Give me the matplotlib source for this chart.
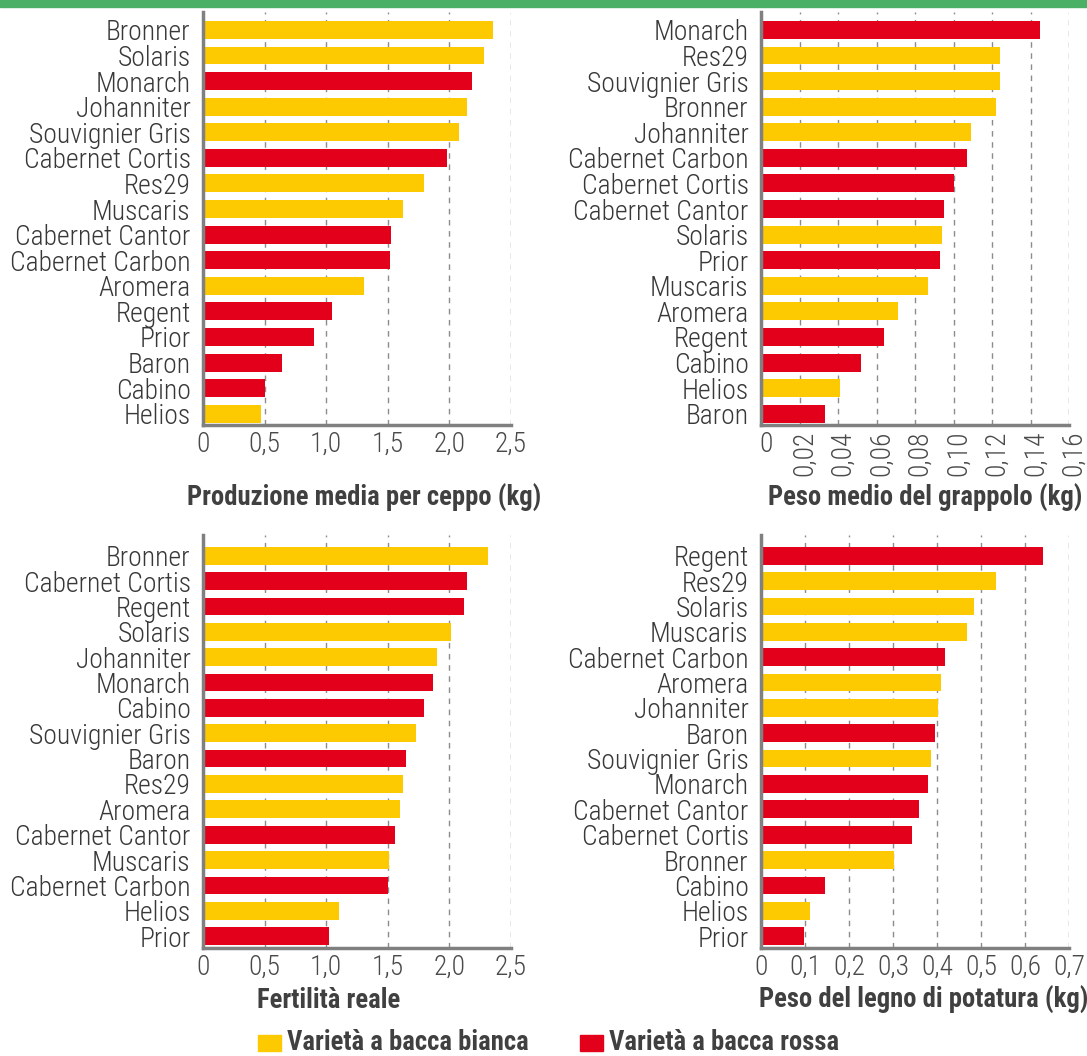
import matplotlib
matplotlib.use("Agg")
import matplotlib.pyplot as plt
import matplotlib.transforms as mtransforms
from matplotlib import font_manager as fm
from matplotlib.patches import Rectangle

# Dati
cat_prod = ["Bronner", "Solaris", "Monarch", "Johanniter", "Souvignier Gris", "Cabernet Cortis",
            "Res29", "Muscaris", "Cabernet Cantor", "Cabernet Carbon", "Aromera", "Regent",
            "Prior", "Baron", "Cabino", "Helios"]
val_prod = [2.35, 2.28, 2.18, 2.14, 2.08, 1.98, 1.79, 1.62, 1.53, 1.52, 1.31, 1.05, 0.90, 0.64, 0.50, 0.47]

cat_grap = ["Monarch", "Res29", "Souvignier Gris", "Bronner", "Johanniter", "Cabernet Carbon",
            "Cabernet Cortis", "Cabernet Cantor", "Solaris", "Prior", "Muscaris", "Aromera",
            "Regent", "Cabino", "Helios", "Baron"]
val_grap = [0.145, 0.124, 0.124, 0.122, 0.109, 0.107, 0.100, 0.095, 0.094, 0.093, 0.087, 0.071,
            0.064, 0.052, 0.041, 0.033]

cat_fert = ["Bronner", "Cabernet Cortis", "Regent", "Solaris", "Johanniter", "Monarch", "Cabino",
            "Souvignier Gris", "Baron", "Res29", "Aromera", "Cabernet Cantor", "Muscaris",
            "Cabernet Carbon", "Helios", "Prior"]
val_fert = [2.31, 2.14, 2.12, 2.01, 1.90, 1.87, 1.79, 1.73, 1.65, 1.62, 1.60, 1.56, 1.51, 1.50, 1.10, 1.02]

cat_legno = ["Regent", "Res29", "Solaris", "Muscaris", "Cabernet Carbon", "Aromera", "Johanniter",
             "Baron", "Souvignier Gris", "Monarch", "Cabernet Cantor", "Cabernet Cortis", "Bronner",
             "Cabino", "Helios", "Prior"]
val_legno = [0.64, 0.533, 0.484, 0.468, 0.418, 0.409, 0.402, 0.395, 0.386, 0.379, 0.359, 0.343,
             0.302, 0.146, 0.112, 0.098]

varieta_rosse = ["Monarch", "Cabernet Cortis", "Cabernet Cantor", "Cabernet Carbon", "Regent",
                 "Prior", "Baron", "Cabino"]

tick_prod = [0, 0.5, 1.0, 1.5, 2.0, 2.5]
lab_prod = ["0", "0,5", "1,0", "1,5", "2,0", "2,5"]
tick_grap = [0, 0.02, 0.04, 0.06, 0.08, 0.10, 0.12, 0.14, 0.16]
lab_grap = ["0", "0,02", "0,04", "0,06", "0,08", "0,10", "0,12", "0,14", "0,16"]
tick_legno = [0, 0.1, 0.2, 0.3, 0.4, 0.5, 0.6, 0.7]
lab_legno = ["0", "0,1", "0,2", "0,3", "0,4", "0,5", "0,6", "0,7"]

GIALLO = "#FDC900"
ROSSO = "#E3001B"
GRIGIO = "#808080"
TESTO = "#404040"

# carattere stretto, se ce n'è uno installato
font_list = fm.fontManager.ttflist
nomi = {f.name for f in font_list}
famiglia, stretch = "Roboto", "normal"
for nome in ["Roboto Condensed", "Liberation Sans Narrow", "Open Sans Condensed"]:
    if nome in nomi:
        famiglia = nome
        break
else:
    for nome in ["DejaVu Sans", "Noto Sans", "Open Sans"]:
        if any(f.name == nome and "condensed" in str(f.stretch) for f in font_list):
            famiglia, stretch = nome, "condensed"
            break
plt.rcParams['font.family'] = [famiglia, 'DejaVu Sans']
plt.rcParams['font.stretch'] = stretch
# peso leggero per le etichette, se esiste
leggero = "light" if any(f.name == famiglia and f.weight in (300, "light") for f in font_list) else "normal"

W, H = 1087, 1056
fig = plt.figure(figsize=(W / 100, H / 100), dpi=100)
renderer = fig.canvas.get_renderer()


def misura(testo, larghezza, peso="normal"):
    # dimensione del carattere che dà al testo la larghezza voluta in pixel
    t = fig.text(0, 0, testo, fontsize=20, fontweight=peso)
    w = t.get_window_extent(renderer).width
    t.remove()
    return 20 * larghezza / w


fs_cat = min(misura("Cabernet Carbon", 180, leggero), 21)
fs_tick = min(misura("2,5", 32, leggero), 21)
fs_tit = min(misura("Produzione media per ceppo (kg)", 352, "bold"), 21)

# striscia verde in alto
fig.patches.append(Rectangle((0, 1 - 7 / H), 1, 7 / H, transform=fig.transFigure,
                             color="#49B065", zorder=0))


def pannello(x0, x1, ytop, ybot, cats, vals, ticks, labs, ylim):
    ax = fig.add_axes([x0 / W, 1 - ybot / H, (x1 - x0) / W, (ybot - ytop) / H])
    colori = [ROSSO if c in varieta_rosse else GIALLO for c in cats]
    ax.barh(range(len(cats)), vals, height=0.7, color=colori, zorder=2)
    ax.set_ylim(*ylim)
    ax.set_xlim(ticks[0], ticks[-1])
    ax.set_yticks(range(len(cats)))
    ax.set_yticklabels(cats, fontsize=fs_cat, color="#383838", fontweight=leggero)
    ax.set_xticks(ticks)
    ax.set_xticklabels(labs, fontsize=fs_tick, color="#4a4a4a", fontweight=leggero)
    ax.tick_params(length=0, axis="y", pad=9)
    ax.tick_params(length=0, axis="x", pad=4)
    for s in ["top", "right"]:
        ax.spines[s].set_visible(False)
    for s in ["left", "bottom"]:
        ax.spines[s].set_color(GRIGIO)
        ax.spines[s].set_linewidth(2.5)
        ax.spines[s].set_zorder(3)
    ax.xaxis.grid(True, color="#8c8c8c", linestyle=(0, (4, 4)), linewidth=1, zorder=1)
    ax.set_axisbelow(True)
    return ax


ax1 = pannello(203, 511, 12, 425, cat_prod, val_prod, tick_prod, lab_prod, (15.44, -0.70))
ax2 = pannello(761, 1069, 12, 425, cat_grap, val_grap, tick_grap, lab_grap, (15.44, -0.70))
ax3 = pannello(203, 511, 535, 948, cat_fert, val_fert, tick_prod, lab_prod, (15.47, -0.82))
ax4 = pannello(761, 1069, 535, 948, cat_legno, val_legno, tick_legno, lab_legno, (15.47, -0.82))

# etichette ruotate nel grafico del peso del grappolo
sposta = mtransforms.ScaledTranslation(5 / 100, 0, fig.dpi_scale_trans)
for i, t in enumerate(ax2.get_xticklabels()):
    if i > 0:
        t.set_rotation(90)
    t.set_ha("center")
    t.set_va("top")
    t.set_transform(t.get_transform() + sposta)

# titoli degli assi
fig.text(364 / W, 1 - 498 / H, "Produzione media per ceppo (kg)", fontsize=fs_tit,
         fontweight="bold", color=TESTO, ha="center", va="center")
fig.text(925 / W, 1 - 498 / H, "Peso medio del grappolo (kg)", fontsize=fs_tit,
         fontweight="bold", color=TESTO, ha="center", va="center")
fig.text(257 / W, 1 - 1000 / H, "Fertilità reale", fontsize=fs_tit,
         fontweight="bold", color=TESTO, ha="left", va="center")
fig.text(924 / W, 1 - 1000 / H, "Peso del legno di potatura (kg)", fontsize=fs_tit,
         fontweight="bold", color=TESTO, ha="center", va="center")

# legenda
fig.patches.append(Rectangle((258 / W, 1 - 1051 / H), 23 / W, 16 / H, transform=fig.transFigure,
                             color=GIALLO))
fig.text(287 / W, 1 - 1043 / H, "Varietà a bacca bianca", fontsize=fs_tit, fontweight="bold",
         color=TESTO, ha="left", va="center")
fig.patches.append(Rectangle((580 / W, 1 - 1051 / H), 23 / W, 16 / H, transform=fig.transFigure,
                             color=ROSSO))
fig.text(609 / W, 1 - 1043 / H, "Varietà a bacca rossa", fontsize=fs_tit, fontweight="bold",
         color=TESTO, ha="left", va="center")

fig.savefig("out.png", dpi=100)
